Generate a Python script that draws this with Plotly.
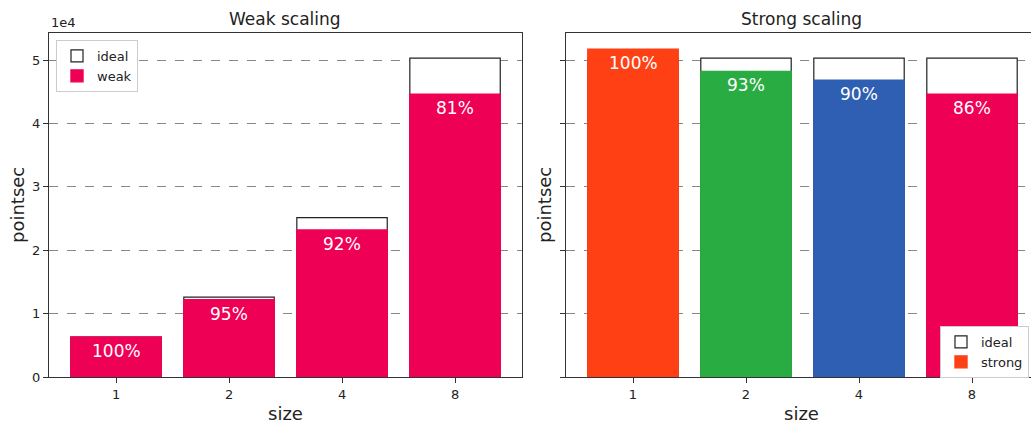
import plotly.graph_objects as go

sizes = ["1", "2", "4", "8"]
weak_ideal = [6300, 12600, 25150, 50300]
weak_vals = [6300, 12200, 23200, 44600]
weak_pct = ["100%", "95%", "92%", "81%"]
strong_ideal = [50300, 50300, 50300, 50300]
strong_vals = [51700, 48200, 46800, 44600]
strong_pct = ["100%", "93%", "90%", "86%"]
strong_colors = ["#FF4015", "#29AD43", "#2E5FB2", "#EE0055"]
weak_color = "#EE0055"

FONT = "DejaVu Sans"
W, H = 1031, 424
ml, mr, mt, mb = 49, 0, 33, 47
pw = W - ml - mr
ph = H - mt - mb
left_dom = [0, (521.5 - ml) / pw]
right_dom = [(566 - ml) / pw, 1.0]

fig = go.Figure()
xs = list(range(len(sizes)))

fig.add_trace(go.Bar(x=xs, y=weak_ideal, name="ideal", width=0.8,
                     marker=dict(color="white", line=dict(color="#222", width=1.2)),
                     xaxis="x", yaxis="y", legend="legend"))
fig.add_trace(go.Bar(x=xs, y=weak_vals, name="weak", width=0.8,
                     marker=dict(color=weak_color, line=dict(color=weak_color, width=1.4)),
                     xaxis="x", yaxis="y", legend="legend"))
fig.add_trace(go.Bar(x=xs, y=strong_ideal, name="ideal", width=0.8,
                     marker=dict(color="white", line=dict(color="#222", width=1.2)),
                     xaxis="x2", yaxis="y2", legend="legend2"))
fig.add_trace(go.Bar(x=xs, y=strong_vals, name="strong", width=0.8,
                     marker=dict(color=strong_colors, line=dict(color=strong_colors, width=1.4)),
                     xaxis="x2", yaxis="y2", legend="legend2"))

pfont = dict(color="white", size=17, family=FONT)
ann = []
for i, (v, t) in enumerate(zip(weak_vals, weak_pct)):
    ann.append(dict(x=i, y=v, xref="x", yref="y", text=t, showarrow=False, xanchor="center",
                    yshift=-14, yanchor="middle", font=pfont))
for i, (v, t) in enumerate(zip(strong_vals, strong_pct)):
    ann.append(dict(x=i, y=v, xref="x2", yref="y2", text=t, showarrow=False, xanchor="center",
                    yshift=-14, yanchor="middle", font=pfont))

tfont = dict(size=17, family=FONT, color="#222")
lfont = dict(size=18, family=FONT, color="#222")
ann += [
    dict(x=sum(left_dom) / 2, y=1, xref="paper", yref="paper", text="Weak scaling",
         showarrow=False, xanchor="center", yanchor="middle", yshift=14, font=tfont),
    dict(x=(right_dom[0] + (1038 - ml) / pw) / 2, y=1, xref="paper", yref="paper",
         text="Strong scaling", showarrow=False, xanchor="center", yanchor="middle",
         yshift=14, font=tfont),
    dict(x=sum(left_dom) / 2, y=0, xref="paper", yref="paper", text="size",
         showarrow=False, xanchor="center", yanchor="middle", yshift=-36, font=lfont),
    dict(x=(right_dom[0] + (1038 - ml) / pw) / 2, y=0, xref="paper", yref="paper", text="size",
         showarrow=False, xanchor="center", yanchor="middle", yshift=-36, font=lfont),
    dict(x=left_dom[0], y=0.5, xref="paper", yref="paper", text="pointsec", textangle=-90,
         showarrow=False, xanchor="center", yanchor="middle", xshift=-32, font=lfont),
    dict(x=right_dom[0], y=0.5, xref="paper", yref="paper", text="pointsec", textangle=-90,
         showarrow=False, xanchor="center", yanchor="middle", xshift=-22, font=lfont),
    dict(x=left_dom[0], y=1, xref="paper", yref="paper", text="1e4",
         showarrow=False, xanchor="left", yanchor="bottom", yshift=1,
         font=dict(size=13, family=FONT, color="#222")),
]

axis_common = dict(showline=True, linecolor="#333", linewidth=1.3, ticks="outside",
                   ticklen=5, tickcolor="#333", tickwidth=1.2,
                   tickfont=dict(size=13, family=FONT, color="#222"), zeroline=False)
yr = [0, 54260]
ytv = [0, 10000, 20000, 30000, 40000, 50000]
ytt = ["0", "1", "2", "3", "4", "5"]

fig.update_layout(
    width=W, height=H, margin=dict(l=ml, r=mr, t=mt, b=mb),
    paper_bgcolor="white", plot_bgcolor="white", barmode="overlay",
    font=dict(family=FONT, color="#222"),
    xaxis=dict(domain=left_dom, range=[-0.593, 3.588], tickvals=xs, ticktext=sizes,
               mirror=True, showgrid=False, anchor="y", **axis_common),
    yaxis=dict(domain=[0, 1], range=yr, tickvals=ytv, ticktext=ytt, mirror=True,
               showgrid=True, gridcolor="#888", griddash="dash", gridwidth=1, anchor="x",
               **axis_common),
    xaxis2=dict(domain=right_dom, range=[-0.593, 3.522], tickvals=xs, ticktext=sizes,
                mirror=True, showgrid=False, anchor="y2", **axis_common),
    yaxis2=dict(domain=[0, 1], range=yr, tickvals=ytv, showticklabels=False, mirror=False,
                showgrid=True, gridcolor="#888", griddash="dash", gridwidth=1, anchor="x2",
                **axis_common),
    legend=dict(x=(56 - ml) / pw, y=1 - (40 - mt) / ph, xanchor="left", yanchor="top",
                bgcolor="white", bordercolor="#ccc", borderwidth=1,
                font=dict(size=13, family=FONT, color="#222"), itemwidth=30),
    legend2=dict(x=(940 - ml) / pw, y=(377 - 326) / ph, xanchor="left", yanchor="top",
                 bgcolor="white", bordercolor="#ccc", borderwidth=1,
                 font=dict(size=13, family=FONT, color="#222"), itemwidth=30),
    annotations=ann,
)

fig.write_html("out.html", config={"displayModeBar": False})
